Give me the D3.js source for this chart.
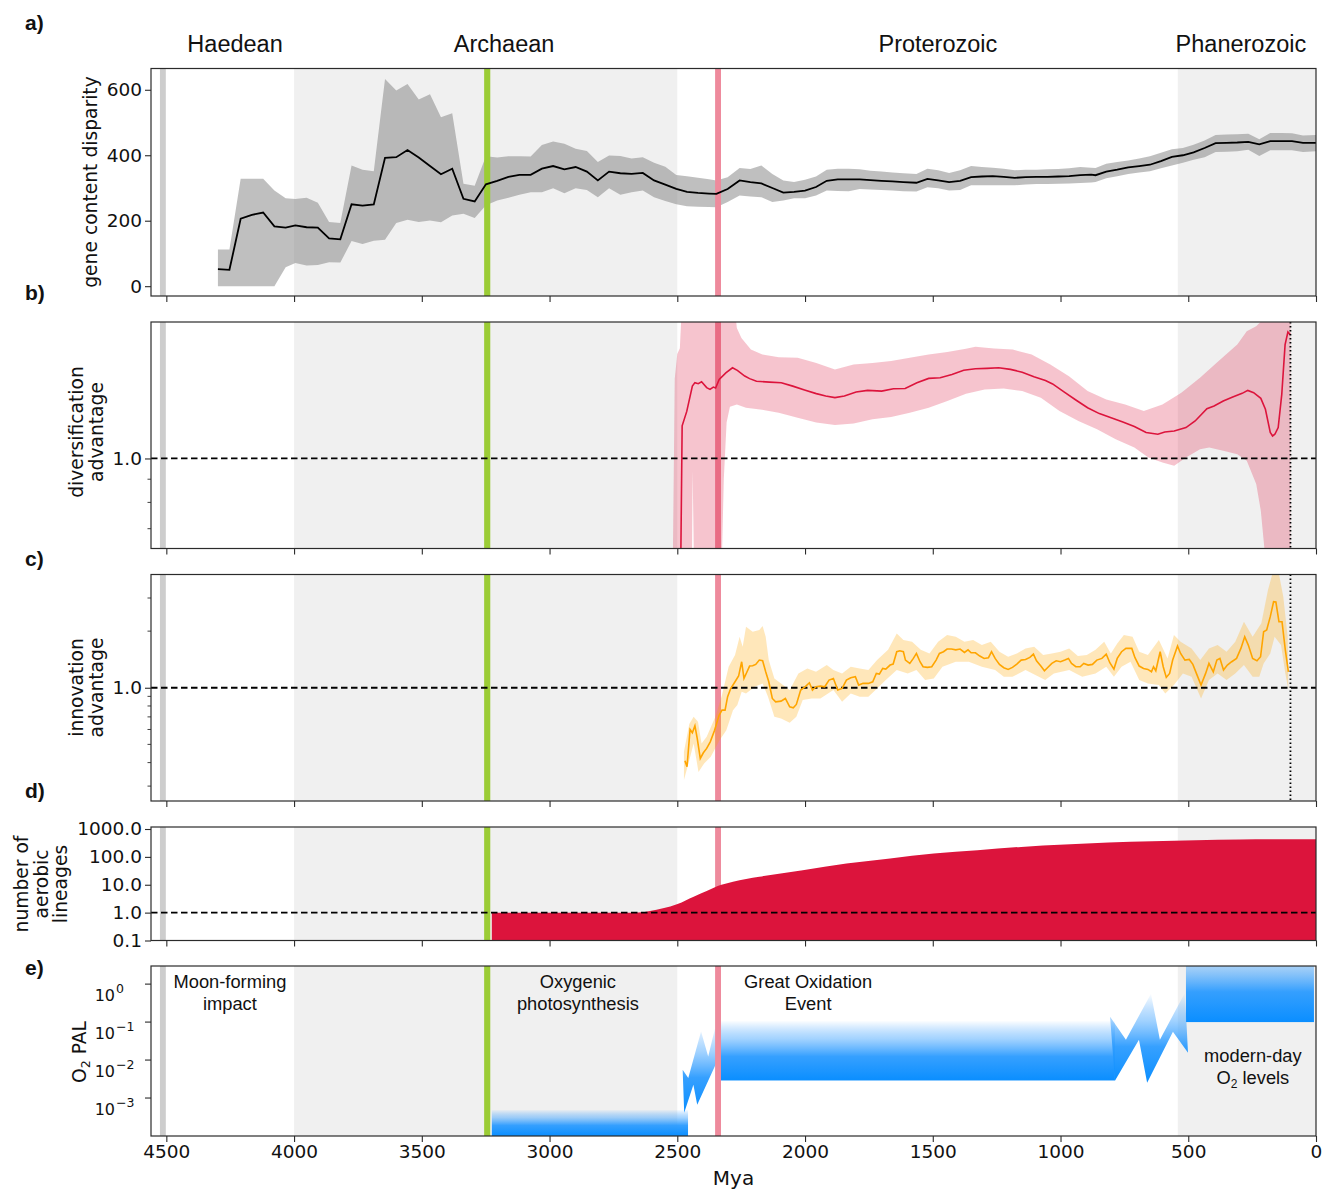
<!DOCTYPE html>
<html><head><meta charset="utf-8">
<script src="https://cdn.jsdelivr.net/npm/d3@7/dist/d3.min.js"></script>
<style>body{margin:0;background:#fff}svg{display:block}</style>
</head><body>
<svg id="chart" width="1335" height="1189"></svg>
<script>
// ---------------- DATA ----------------
const eraNames = ["Haedean", "Archaean", "Proterozoic", "Phanerozoic"];
const eraLabelMya = [4231, 3178, 1480, 294];
const shadedSpans = [[4000, 2500], [541, 0]];
const moonSpan = [4525, 4502];
const oxyPhotoSpan = [3256, 3232];
const goeSpan = [2352, 2329];
const xTicks = [4500, 4000, 3500, 3000, 2500, 2000, 1500, 1000, 500, 0];
const advantageRefTime = 100;

// a) gene content disparity
const gcdTime = [4298,4253,4209,4165,4121,4077,4033,3995,3951,3907,3863,3819,3775,3732,3688,3644,3600,3556,3512,3468,3425,3381,3337,3293,3249,3205,3161,3118,3074,3030,2986,2942,2898,2854,2811,2767,2723,2679,2635,2591,2547,2504,2462,2419,2376,2347,2303,2256,2214,2171,2128,2085,2043,2000,1957,1915,1872,1829,1786,1744,1701,1658,1615,1564,1521,1479,1436,1393,1350,1308,1265,1222,1179,1137,1094,1051,1009,966,923,880,863,821,778,735,692,650,607,564,521,479,436,393,350,308,265,222,179,137,94,51,0];
const gcdMean = [52,50,206,218,225,183,179,186,180,179,146,143,250,246,250,392,394,416,393,367,342,359,267,259,311,322,334,340,340,359,367,357,364,350,323,350,345,343,346,323,310,297,288,285,283,282,297,323,318,314,300,286,288,292,303,322,326,326,326,324,322,320,318,316,328,323,318,322,333,335,336,334,331,333,334,334,335,336,339,341,339,350,356,363,367,371,382,395,400,409,422,437,438,439,441,433,443,443,443,438,438];
const gcdLow = [0,0,0,0,0,0,58,71,63,65,73,72,138,129,139,142,193,203,196,201,195,216,221,208,247,262,270,279,287,287,299,284,299,294,272,299,279,287,292,272,260,250,244,243,242,241,257,277,274,272,257,262,269,269,277,292,291,290,297,295,294,292,290,289,302,299,292,294,308,308,308,308,308,311,312,312,313,314,315,317,318,330,336,343,347,351,360,369,377,386,394,410,411,412,417,398,415,415,415,410,412];
const gcdHigh = [112,112,328,328,328,292,269,266,270,255,196,193,369,356,351,633,598,618,570,586,516,528,313,307,397,393,397,397,396,431,442,435,420,413,379,399,398,390,394,377,365,340,336,331,327,323,333,361,358,369,343,323,318,325,335,356,359,359,357,353,350,347,345,343,359,354,346,354,367,364,362,359,354,356,356,357,358,360,364,362,361,374,379,384,390,397,408,418,422,432,445,462,463,464,466,449,468,468,467,460,462];

// b) diversification advantage
const divTime = [2487,2481,2463,2441,2431,2418,2405,2385,2372,2359,2350,2336,2310,2284,2265,2236,2217,2190,2139,2093,2048,2002,1956,1919,1883,1846,1800,1755,1700,1654,1608,1562,1516,1471,1425,1379,1333,1288,1242,1196,1150,1104,1059,1031,985,940,894,848,802,756,711,665,619,592,555,509,473,427,399,363,326,289,267,244,216,198,179,170,161,148,134,121,110,101];
const divMean = [0.55,1.18,1.27,1.444,1.47,1.462,1.476,1.433,1.42,1.437,1.43,1.494,1.545,1.585,1.564,1.52,1.5,1.48,1.474,1.469,1.444,1.416,1.39,1.373,1.362,1.373,1.401,1.413,1.408,1.425,1.427,1.469,1.502,1.507,1.532,1.566,1.577,1.58,1.585,1.572,1.55,1.514,1.486,1.46,1.401,1.346,1.294,1.256,1.23,1.204,1.176,1.141,1.131,1.144,1.15,1.17,1.21,1.288,1.305,1.339,1.366,1.392,1.413,1.397,1.357,1.284,1.141,1.121,1.131,1.17,1.385,1.783,1.901,1.876];
const divHiTime = [2518,2510,2500,2490,2480,2280,2267,2249,2212,2167,2103,2029,1956,1883,1810,1736,1663,1590,1516,1443,1370,1333,1260,1187,1113,1040,967,894,821,747,674,601,527,454,381,308,271,234,198,100];
const divHi = [0.55,1.5,1.7,1.75,2.3,2.3,1.94,1.845,1.739,1.695,1.673,1.667,1.625,1.572,1.612,1.625,1.64,1.667,1.695,1.718,1.745,1.763,1.748,1.739,1.695,1.612,1.519,1.408,1.35,1.316,1.273,1.316,1.397,1.507,1.64,1.784,1.908,1.957,2.05,2.3];
const divLoTime = [2518,2443,2440,2434,2327,2318,2307,2294,2267,2231,2176,2103,2029,1956,1883,1810,1736,1663,1590,1516,1443,1370,1297,1223,1150,1077,1004,930,857,784,711,656,601,555,509,454,418,363,308,271,234,216,198,100];
const divLo = [0.55,0.55,0.94,0.55,0.55,0.9,1.2,1.3,1.316,1.294,1.283,1.262,1.23,1.2,1.186,1.194,1.22,1.235,1.262,1.294,1.339,1.39,1.42,1.427,1.408,1.362,1.273,1.21,1.16,1.103,1.057,1.005,0.98,0.964,1.005,1.048,1.057,1.04,1.022,0.988,0.878,0.767,0.6,0.55];

// c) innovation advantage
const innovTime = [2470,2462,2450,2441,2431,2422,2410,2398,2385,2371,2354,2337,2325,2313,2303,2291,2274,2260,2248,2239,2227,2217,2205,2193,2179,2166,2154,2142,2128,2115,2094,2077,2060,2046,2034,2017,2000,1983,1971,1957,1940,1923,1906,1889,1872,1855,1838,1821,1803,1790,1773,1752,1735,1721,1709,1696,1684,1667,1655,1641,1629,1615,1607,1590,1576,1564,1550,1538,1521,1504,1487,1474,1458,1444,1427,1410,1393,1376,1362,1350,1333,1316,1299,1282,1270,1256,1239,1222,1205,1188,1171,1154,1137,1120,1106,1094,1077,1063,1051,1034,1017,1000,983,969,957,940,923,909,892,875,858,838,821,807,791,778,761,744,721,709,692,675,658,644,636,627,619,610,598,586,573,561,542,530,513,496,482,467,450,432,419,402,388,376,362,347,330,311,294,279,265,248,231,217,205,193,179,166,157,145,133,120,108];
const innovMean = [0.409,0.38,0.60,0.576,0.628,0.538,0.421,0.451,0.476,0.516,0.595,0.71,0.76,0.76,0.896,0.99,1.076,1.154,1.375,1.121,1.216,1.304,1.309,1.331,1.403,1.392,1.216,1.076,0.877,0.842,0.849,0.877,0.792,0.783,0.815,0.972,1.012,1.063,0.972,1.012,1.02,1.012,1.098,1.121,0.972,0.992,1.098,1.13,1.144,1.033,1.055,1.055,1.076,1.192,1.182,1.267,1.257,1.32,1.336,1.554,1.573,1.554,1.403,1.347,1.432,1.522,1.375,1.293,1.283,1.293,1.403,1.522,1.554,1.606,1.606,1.59,1.606,1.54,1.59,1.535,1.535,1.474,1.432,1.444,1.554,1.432,1.331,1.278,1.252,1.283,1.336,1.403,1.414,1.449,1.51,1.392,1.304,1.231,1.278,1.347,1.392,1.375,1.403,1.432,1.347,1.293,1.293,1.347,1.32,1.331,1.403,1.432,1.51,1.358,1.257,1.432,1.554,1.619,1.619,1.449,1.304,1.267,1.252,1.216,1.293,1.231,1.375,1.554,1.293,1.135,1.192,1.403,1.665,1.522,1.403,1.414,1.331,1.182,1.033,1.192,1.347,1.216,1.403,1.432,1.242,1.32,1.375,1.432,1.619,1.867,1.686,1.432,1.392,1.462,1.986,2.026,2.387,2.867,2.856,2.244,2.244,1.586,1.216];
const innovHiTime = [2474,2453,2436,2419,2405,2385,2351,2325,2299,2274,2256,2244,2231,2205,2179,2166,2154,2142,2120,2094,2060,2026,1991,1957,1915,1889,1855,1821,1786,1752,1718,1675,1641,1615,1581,1547,1513,1479,1444,1410,1376,1342,1308,1273,1239,1205,1171,1137,1103,1068,1034,1000,966,932,897,863,829,803,778,752,718,692,658,615,581,556,530,487,453,419,385,350,316,282,248,214,188,171,145,128,111];
const innovHi = [0.457,0.641,0.701,0.659,0.506,0.549,0.701,0.914,1.293,1.492,1.867,1.652,2.11,1.986,2.026,2.13,1.867,1.403,1.121,1.054,0.972,1.192,1.267,1.216,1.32,1.242,1.192,1.293,1.267,1.242,1.403,1.59,1.945,1.793,1.757,1.59,1.522,1.757,1.906,1.867,1.757,1.793,1.686,1.757,1.554,1.462,1.522,1.619,1.652,1.492,1.522,1.554,1.619,1.474,1.492,1.59,1.757,1.522,1.72,1.906,1.867,1.554,1.492,1.793,1.432,1.906,1.757,1.619,1.403,1.619,1.686,1.554,1.757,2.244,1.867,2.2,3.31,4.02,4.02,3.05,1.867];
const innovLoTime = [2474,2453,2436,2417,2395,2369,2334,2308,2282,2265,2248,2231,2197,2166,2145,2120,2094,2060,2034,2009,1974,1940,1889,1855,1821,1786,1752,1718,1684,1641,1598,1564,1530,1496,1462,1410,1359,1308,1256,1222,1188,1137,1085,1060,1026,966,915,863,821,791,761,726,692,658,615,590,556,521,487,450,419,385,350,316,282,248,222,205,179,162,137,120,108];
const innovLo = [0.323,0.412,0.506,0.357,0.396,0.43,0.527,0.595,0.76,0.809,0.952,0.933,1.012,1.055,0.896,0.701,0.687,0.651,0.701,0.86,0.877,0.877,0.972,0.842,0.933,0.896,0.896,0.992,1.098,1.242,1.192,1.242,1.098,1.121,1.293,1.375,1.375,1.293,1.242,1.144,1.144,1.242,1.144,1.098,1.192,1.242,1.144,1.192,1.293,1.144,1.293,1.375,1.098,1.055,1.033,0.933,1.033,1.192,1.144,0.877,1.098,1.192,1.098,1.192,1.32,1.144,1.144,1.347,1.522,1.867,1.686,1.192,0.972];

// d) number of aerobic lineages
const aerobicTime = [3226,2700,2650,2607,2556,2499,2436,2385,2342,2282,2179,2009,1838,1667,1496,1325,1154,983,812,641,470,299,128,0];
const aerobicCount = [1,1,1.02,1.15,1.43,2.04,3.73,5.94,8.96,12.8,19.3,33.4,57.8,87.2,131,173,228,276,325,363,394,416,427,430];

// e) O2 PAL (schematic)
const o2BlockStart = [3226, 2336, 509];
const o2BlockEnd = [2458, 787, 8];
const o2BlockLow = [1e-4, 0.0029, 0.1];
const o2BlockHigh = [5e-4, 0.11, 10];
const zig1Time = [2479,2457,2407,2379,2349,2345,2422,2437,2473];
const zig1PAL = [0.00556,0.00336,0.0566,0.01245,0.0849,0.009,0.000667,0.00224,0.00041];
const zig2Time = [806,744,646,611,513,501,560,661,693,787];
const zig2PAL = [0.138,0.0342,0.556,0.0342,0.59,0.0156,0.0556,0.00253,0.0342,0.00285];
const annoLines = [["Moon-forming","impact"],["Oxygenic","photosynthesis"],["Great Oxidation","Event"],["modern-day","O2 levels"]];
const annoMya = [4251, 2889, 1988, 247];
const o2TickValues = [1, 0.1, 0.01, 0.001];
const o2TickExp = ["0", "\u22121", "\u22122", "\u22123"];

// ---------------- DRAWING ----------------
const svg = d3.select("#chart");
const FT = "'DejaVu Sans', sans-serif";
const FS = "'Liberation Sans', Arial, Helvetica, sans-serif";
const TICK_FS = 18.5, LAB_FS = 18.7;
const L = 151, R = 1316;
const x = d3.scaleLinear().domain([4560, 0]).range([L, R]);

const P = {
  a: {top: 68.5, bottom: 296},
  b: {top: 322, bottom: 548.5},
  c: {top: 574.5, bottom: 801},
  d: {top: 827, bottom: 940.5},
  e: {top: 966, bottom: 1136}
};
P.a.y = d3.scaleLinear().domain([-30, 665]).range([P.a.bottom, P.a.top]);
P.b.y = d3.scaleLog().domain([0.633, 2.0]).range([P.b.bottom, P.b.top]);
P.c.y = d3.scaleLog().domain([0.25, 4]).range([P.c.bottom, P.c.top]);
P.d.y = d3.scaleLog().domain([0.1, 1180]).range([P.d.bottom, P.d.top]);
P.e.y = d3.scaleLog().domain([1e-4, 3]).range([P.e.bottom, P.e.top]);

const defs = svg.append("defs");
const grad = defs.append("linearGradient").attr("id", "o2fade")
  .attr("x1", 0).attr("y1", 0).attr("x2", 0).attr("y2", 1);
[[0, "#1e90ff", 0], [0.3, "#4aa8ff", 0.5], [0.6, "#2b9bff", 0.95], [1, "#0a8eff", 1]]
  .forEach(s => grad.append("stop").attr("offset", s[0]).attr("stop-color", s[1]).attr("stop-opacity", s[2]));

Object.entries(P).forEach(([k, p]) => {
  defs.append("clipPath").attr("id", "clip-" + k).append("rect")
    .attr("x", L).attr("y", p.top).attr("width", R - L).attr("height", p.bottom - p.top);
  p.g = svg.append("g");
  p.inner = p.g.append("g").attr("clip-path", `url(#clip-${k})`);
});

function spanRect(g, p, span, fill) {
  g.append("rect").attr("x", x(span[0])).attr("width", x(span[1]) - x(span[0]))
    .attr("y", p.top).attr("height", p.bottom - p.top).attr("fill", fill);
}
function drawBackground(p) {
  shadedSpans.forEach(s => spanRect(p.inner, p, s, "#f0f0f0"));
  spanRect(p.inner, p, moonSpan, "#cdcdcd");
}
function drawEvents(p) {
  spanRect(p.inner, p, oxyPhotoSpan, "#9bcc35");
  spanRect(p.inner, p, goeSpan, "#ee8a9c");
}
function hLine(p, v) {
  p.inner.append("line").attr("x1", L).attr("x2", R).attr("y1", p.y(v)).attr("y2", p.y(v))
    .attr("stroke", "#000").attr("stroke-width", 1.8).attr("stroke-dasharray", "6.5,3.5");
}
function vDotted(p) {
  p.inner.append("line").attr("x1", x(advantageRefTime)).attr("x2", x(advantageRefTime))
    .attr("y1", p.top).attr("y2", p.bottom)
    .attr("stroke", "#000").attr("stroke-width", 1.8).attr("stroke-dasharray", "1.6,2.4");
}
const zip = (a, b) => a.map((v, i) => [v, b[i]]);

// ---- a ----
{
  const p = P.a;
  drawBackground(p);
  const data = gcdTime.map((t, i) => ({t, m: gcdMean[i], lo: gcdLow[i], hi: gcdHigh[i]}));
  p.inner.append("path").datum(data)
    .attr("d", d3.area().x(d => x(d.t)).y0(d => p.y(d.lo)).y1(d => p.y(d.hi)))
    .attr("fill", "#808080").attr("fill-opacity", 0.5);
  drawEvents(p);
  p.inner.append("path").datum(data)
    .attr("d", d3.line().x(d => x(d.t)).y(d => p.y(d.m)))
    .attr("fill", "none").attr("stroke", "#000").attr("stroke-width", 1.8);
}
// ---- b ----
{
  const p = P.b;
  drawBackground(p);
  drawEvents(p);
  const poly = zip(divHiTime, divHi).concat(zip(divLoTime, divLo).reverse());
  p.inner.append("path").attr("d", d3.line().x(d => x(d[0])).y(d => p.y(d[1]))(poly) + "Z")
    .attr("fill", "crimson").attr("fill-opacity", 0.25);
  hLine(p, 1);
  p.inner.append("path").attr("d", d3.line().x(d => x(d[0])).y(d => p.y(d[1]))(zip(divTime, divMean)))
    .attr("fill", "none").attr("stroke", "crimson").attr("stroke-width", 1.6);
  vDotted(p);
}
// ---- c ----
{
  const p = P.c;
  drawBackground(p);
  drawEvents(p);
  const poly = zip(innovHiTime, innovHi).concat(zip(innovLoTime, innovLo).reverse());
  p.inner.append("path").attr("d", d3.line().x(d => x(d[0])).y(d => p.y(d[1]))(poly) + "Z")
    .attr("fill", "orange").attr("fill-opacity", 0.27);
  hLine(p, 1);
  p.inner.append("path").attr("d", d3.line().x(d => x(d[0])).y(d => p.y(d[1]))(zip(innovTime, innovMean)))
    .attr("fill", "none").attr("stroke", "orange").attr("stroke-width", 1.6);
  vDotted(p);
}
// ---- d ----
{
  const p = P.d;
  drawBackground(p);
  drawEvents(p);
  p.inner.append("path").datum(zip(aerobicTime, aerobicCount))
    .attr("d", d3.area().x(d => x(d[0])).y0(p.y(0.1)).y1(d => p.y(d[1])).curve(d3.curveMonotoneX))
    .attr("fill", "crimson");
  hLine(p, 1);
}
// ---- e ----
function o2Text(t, ln, subSize) {
  if (ln.startsWith("O2")) {
    t.append("tspan").text("O");
    t.append("tspan").text("2").attr("font-size", subSize).attr("dy", 4);
    t.append("tspan").text(ln.slice(2)).attr("dy", -4);
  } else t.text(ln);
}
{
  const p = P.e;
  drawBackground(p);
  spanRect(p.inner, p, oxyPhotoSpan, "#9bcc35");
  o2BlockStart.forEach((s, i) => {
    p.inner.append("rect").attr("x", x(s)).attr("width", x(o2BlockEnd[i]) - x(s))
      .attr("y", p.y(o2BlockHigh[i])).attr("height", p.y(o2BlockLow[i]) - p.y(o2BlockHigh[i]))
      .attr("fill", "url(#o2fade)");
  });
  [zip(zig1Time, zig1PAL), zip(zig2Time, zig2PAL)].forEach(z => {
    p.inner.append("path").attr("d", d3.line().x(d => x(d[0])).y(d => p.y(d[1]))(z) + "Z")
      .attr("fill", "url(#o2fade)");
  });
  spanRect(p.inner, p, goeSpan, "#ee8a9c");
  annoLines.forEach((lines, i) => {
    const base = i === 3 ? p.top + 96 : p.top + 22;
    lines.forEach((ln, j) => {
      const t = p.g.append("text").attr("x", x(annoMya[i])).attr("y", base + j * 21.5)
        .attr("text-anchor", "middle").attr("font-family", FS).attr("font-size", 18.3).attr("fill", "#111");
      o2Text(t, ln, 12);
    });
  });
}

// frames + axes
Object.entries(P).forEach(([k, p]) => {
  p.g.append("rect").attr("x", L).attr("y", p.top).attr("width", R - L).attr("height", p.bottom - p.top)
    .attr("fill", "none").attr("stroke", "#2b2b2b").attr("stroke-width", 1.2);
  const xa = p.g.append("g").attr("transform", `translate(0,${p.bottom})`)
    .call(d3.axisBottom(x).tickValues(xTicks).tickSize(6).tickPadding(3)
      .tickFormat(k === "e" ? d => d : () => ""));
  xa.select(".domain").remove();
  xa.selectAll(".tick line").attr("stroke", "#2b2b2b").attr("stroke-width", 1.1);
  xa.selectAll(".tick text").attr("font-family", FT).attr("font-size", TICK_FS).attr("fill", "#111");
});

function yAxis(p, vals, fmt) {
  const ya = p.g.append("g").attr("transform", `translate(${L},0)`)
    .call(d3.axisLeft(p.y).tickValues(vals).tickFormat(fmt).tickSize(6).tickPadding(3));
  ya.select(".domain").remove();
  ya.selectAll(".tick line").attr("stroke", "#2b2b2b").attr("stroke-width", 1.1);
  ya.selectAll(".tick text").attr("font-family", FT).attr("font-size", TICK_FS).attr("fill", "#111");
}
function minorTicks(p, vals) {
  p.g.selectAll(null).data(vals).join("line")
    .attr("x1", L - 3.5).attr("x2", L).attr("y1", d => p.y(d)).attr("y2", d => p.y(d))
    .attr("stroke", "#2b2b2b").attr("stroke-width", 0.9);
}
yAxis(P.a, [0, 200, 400, 600], d3.format("d"));
yAxis(P.b, [1], () => "1.0");
minorTicks(P.b, [0.7, 0.8, 0.9]);
yAxis(P.c, [1], () => "1.0");
minorTicks(P.c, [0.3, 0.4, 0.5, 0.6, 0.7, 0.8, 0.9, 2, 3]);
yAxis(P.d, [0.1, 1, 10, 100, 1000], d => d < 1 ? "0.1" : d.toFixed(1));
// e: 10^n labels as base + exponent text pieces
o2TickValues.forEach((v, i) => {
  const y = P.e.y(v);
  P.e.g.append("line").attr("x1", L - 6).attr("x2", L).attr("y1", y).attr("y2", y)
    .attr("stroke", "#2b2b2b").attr("stroke-width", 1.1);
  P.e.g.append("text").attr("x", 115).attr("y", y + 16.5).attr("text-anchor", "end")
    .attr("font-family", FT).attr("font-size", 16).attr("fill", "#111").text("10");
  P.e.g.append("text").attr("x", 116).attr("y", y + 8.5).attr("text-anchor", "start")
    .attr("font-family", FT).attr("font-size", 12.5).attr("fill", "#111").text(o2TickExp[i]);
});

// axis titles
function ylab(lines, xs, yc) {
  lines.forEach((ln, i) => {
    const t = svg.append("text").attr("transform", `translate(${xs[i]},${yc}) rotate(-90)`)
      .attr("text-anchor", "middle").attr("font-family", FT).attr("font-size", LAB_FS).attr("fill", "#111");
    o2Text(t, ln, 12.5);
  });
}
ylab(["gene content disparity"], [97], 182);
ylab(["diversification", "advantage"], [83, 102.5], 432);
ylab(["innovation", "advantage"], [83, 102.5], 687.5);
ylab(["number of", "aerobic", "lineages"], [28, 47.5, 67], 884);
ylab(["O2 PAL"], [86], 1052);

svg.append("text").attr("x", (L + R) / 2).attr("y", 1185).attr("text-anchor", "middle")
  .attr("font-family", FT).attr("font-size", 20).attr("fill", "#111").text("Mya");

eraNames.forEach((n, i) => {
  svg.append("text").attr("x", x(eraLabelMya[i])).attr("y", 51.5).attr("text-anchor", "middle")
    .attr("font-family", FS).attr("font-size", 23.5).attr("fill", "#111").text(n);
});

[["a)", 30], ["b)", 300], ["c)", 566], ["d)", 798], ["e)", 975]].forEach(([s, y]) => {
  svg.append("text").attr("x", 25).attr("y", y).attr("font-family", FS).attr("font-weight", "bold")
    .attr("font-size", 21).attr("fill", "#111").text(s);
});
</script>
</body></html>
